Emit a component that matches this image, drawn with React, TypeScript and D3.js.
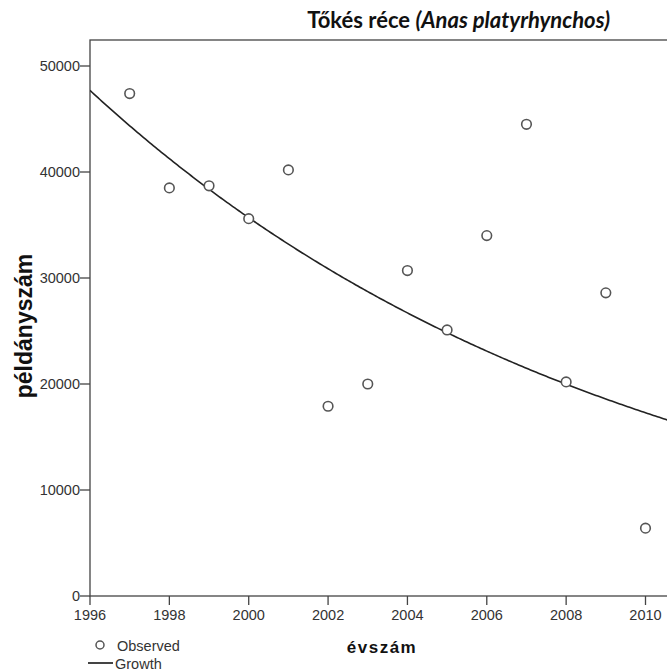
import React from "react";
import * as d3 from "d3";

const years = [1997, 1998, 1999, 2000, 2001, 2002, 2003, 2004, 2005, 2006, 2007, 2008, 2009, 2010];
const observed = [47400, 38500, 38700, 35600, 40200, 17900, 20000, 30700, 25100, 34000, 44500, 20200, 28600, 6400];
const xTicks = [1996, 1998, 2000, 2002, 2004, 2006, 2008, 2010];
const yTicks = [0, 10000, 20000, 30000, 40000, 50000];

// SPSS "Growth" model: ln(y) = b0 + b1 * t, fitted by least squares
function fitGrowth(xs: number[], ys: number[]) {
  const ls = ys.map((v) => Math.log(v));
  const mx = d3.mean(xs)!;
  const my = d3.mean(ls)!;
  let sxy = 0, sxx = 0;
  xs.forEach((x, i) => {
    sxy += (x - mx) * (ls[i] - my);
    sxx += (x - mx) * (x - mx);
  });
  const b1 = sxy / sxx;
  const b0 = my - b1 * mx;
  return (x: number) => Math.exp(b0 + b1 * x);
}

export default function App() {
  const W = 667, H = 671;
  const left = 90, bottom = 596, top = 40, right = 690;
  const x = d3.scaleLinear().domain([1996, 2010]).range([90, 645.5]);
  const y = d3.scaleLinear().domain([0, 50000]).range([596, 66]);
  const g = fitGrowth(years, observed);
  const xMax = x.invert(right);
  const curvePts = d3.range(1996, xMax, 0.05).map((t) => [t, g(t)] as [number, number]);
  const line = d3.line<[number, number]>().x((d) => x(d[0])).y((d) => y(d[1]));
  const font = "'Liberation Sans', Arial, sans-serif";
  return (
    <svg width={W} height={H} style={{ position: "absolute", left: 0, top: 0, background: "#fff" }}>
      <defs>
        <clipPath id="plot">
          <rect x={left} y={top} width={right - left} height={bottom - top} />
        </clipPath>
      </defs>
      <rect x={0} y={0} width={W} height={H} fill="#fff" />
      {/* frame */}
      <rect x={left} y={top} width={right - left} height={bottom - top} fill="none" stroke="#444" strokeWidth={1.3} />
      {/* title */}
      <text x={610} y={28} textAnchor="end" fontFamily="Lato, 'Open Sans', sans-serif" fontWeight="bold" fontSize={22} fill="#111">
        Tőkés réce <tspan fontStyle="italic">(Anas platyrhynchos)</tspan>
      </text>
      {/* y ticks */}
      {yTicks.map((v) => (
        <g key={v}>
          <line x1={80} x2={left} y1={y(v)} y2={y(v)} stroke="#444" strokeWidth={1.3} />
          <text x={80} y={y(v) + 5} textAnchor="end" fontFamily={font} fontSize={14.5} fill="#333">{v}</text>
        </g>
      ))}
      {/* x ticks */}
      {xTicks.map((v) => (
        <g key={v}>
          <line x1={x(v)} x2={x(v)} y1={bottom} y2={bottom + 9} stroke="#444" strokeWidth={1.3} />
          <text x={x(v)} y={bottom + 24} textAnchor="middle" fontFamily={font} fontSize={14.5} fill="#333">{v}</text>
        </g>
      ))}
      {/* growth curve */}
      <path d={line(curvePts) || ""} fill="none" stroke="#222" strokeWidth={1.6} clipPath="url(#plot)" />
      {/* observed */}
      {years.map((yr, i) => (
        <circle key={yr} cx={x(yr)} cy={y(observed[i])} r={4.8} fill="#fff" stroke="#555" strokeWidth={1.6} />
      ))}
      {/* axis titles */}
      <text x={382} y={653} textAnchor="middle" fontFamily={font} fontWeight="bold" fontSize={17} letterSpacing={1.5} fill="#111">évszám</text>
      <text transform="translate(32,326) rotate(-90)" textAnchor="middle" fontFamily={font} fontWeight="bold" fontSize={23} fill="#111">példányszám</text>
      {/* legend */}
      <circle cx={100} cy={645} r={4} fill="#fff" stroke="#555" strokeWidth={1.5} />
      <text x={117} y={651} fontFamily={font} fontSize={14.5} fill="#333">Observed</text>
      <line x1={88} x2={113} y1={663} y2={663} stroke="#444" strokeWidth={2} />
      <text x={115} y={669} fontFamily={font} fontSize={14.5} fill="#333">Growth</text>
    </svg>
  );
}
